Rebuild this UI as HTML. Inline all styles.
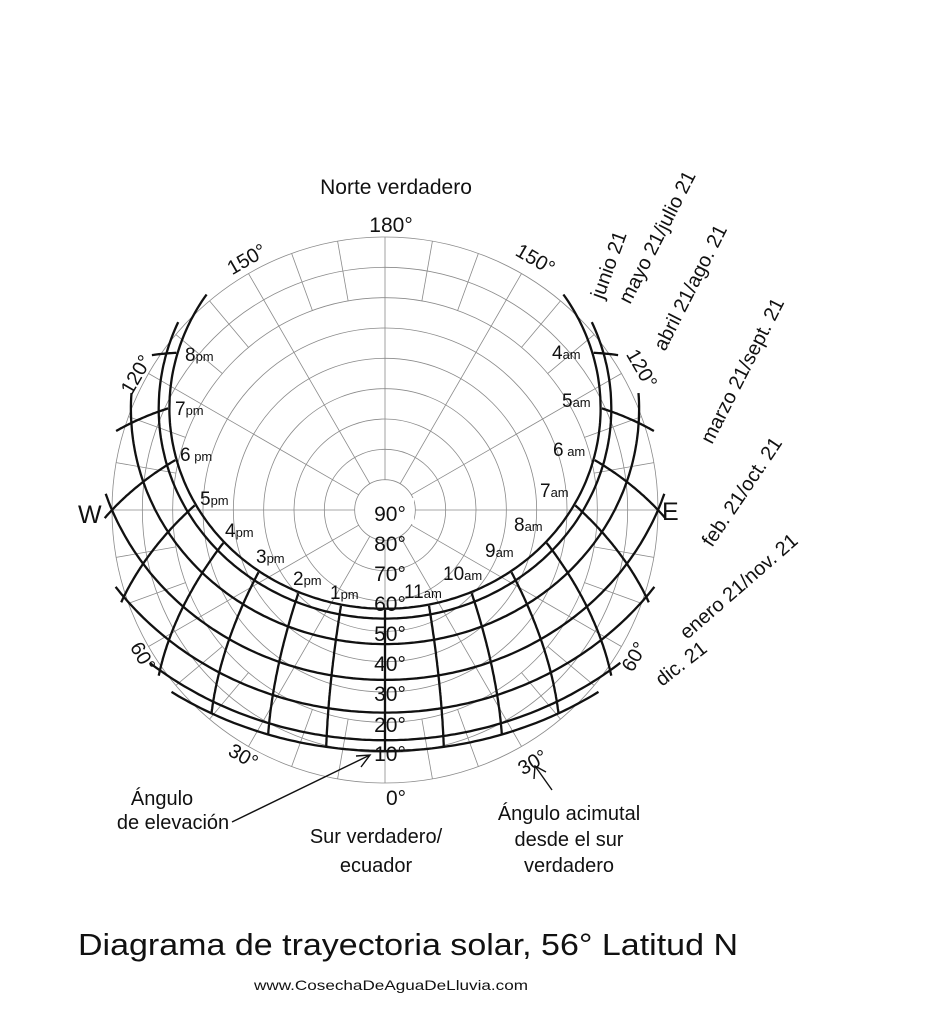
<!DOCTYPE html>
<html><head><meta charset="utf-8"><style>
html,body{margin:0;padding:0;background:#fff;}
svg{display:block;}
text{font-family:"Liberation Sans",sans-serif;fill:#111;}
.s{font-size:13px;}
.h{font-size:19px;}
.e{font-size:21px;}
.r{font-size:20px;}
</style></head><body>
<svg id="sv" width="945" height="1024" viewBox="0 0 945 1024" xmlns="http://www.w3.org/2000/svg">
<g id="grid" stroke="#8a8a8a" stroke-width="0.8" fill="none"></g>
<g id="paths" stroke="#111" stroke-width="2.3" fill="none"></g>
<rect x="366" y="498" width="48" height="26" fill="#fff"/>
<g text-anchor="middle">
<text class="e" x="390" y="521">90°</text>
<text class="e" x="390" y="551">80°</text>
<text class="e" x="390" y="581">70°</text>
<text class="e" x="390" y="611">60°</text>
<text class="e" x="390" y="641">50°</text>
<text class="e" x="390" y="671">40°</text>
<text class="e" x="390" y="701">30°</text>
<text class="e" x="390" y="732">20°</text>
<text class="e" x="390" y="761">10°</text>
<text class="e" x="396" y="805">0°</text>
<text class="e" x="396" y="194" style="font-size:21px">Norte verdadero</text>
<text class="e" x="391" y="232">180°</text>
</g>
<text x="78" y="523" style="font-size:25px">W</text>
<text x="662" y="520" style="font-size:25px">E</text>
<g class="e" style="font-size:20px" text-anchor="middle">
<text transform="translate(250,265) rotate(-30)">150°</text>
<text transform="translate(532,265) rotate(30)">150°</text>
<text transform="translate(142,378) rotate(-60)">120°</text>
<text transform="translate(636,372) rotate(60)">120°</text>
<text transform="translate(137,660) rotate(60)">60°</text>
<text transform="translate(640,660) rotate(-60)">60°</text>
<text transform="translate(240,762) rotate(30)">30°</text>
<text transform="translate(536,768) rotate(-30)">30°</text>
</g>
<g>
<text x="185" y="361"><tspan class="h">8</tspan><tspan class="s">pm</tspan></text>
<text x="175" y="415"><tspan class="h">7</tspan><tspan class="s">pm</tspan></text>
<text x="180" y="461"><tspan class="h">6</tspan><tspan class="s"> pm</tspan></text>
<text x="200" y="505"><tspan class="h">5</tspan><tspan class="s">pm</tspan></text>
<text x="225" y="537"><tspan class="h">4</tspan><tspan class="s">pm</tspan></text>
<text x="256" y="563"><tspan class="h">3</tspan><tspan class="s">pm</tspan></text>
<text x="293" y="585"><tspan class="h">2</tspan><tspan class="s">pm</tspan></text>
<text x="330" y="599"><tspan class="h">1</tspan><tspan class="s">pm</tspan></text>
<text x="404" y="598"><tspan class="h">11</tspan><tspan class="s">am</tspan></text>
<text x="443" y="580"><tspan class="h">10</tspan><tspan class="s">am</tspan></text>
<text x="485" y="557"><tspan class="h">9</tspan><tspan class="s">am</tspan></text>
<text x="514" y="531"><tspan class="h">8</tspan><tspan class="s">am</tspan></text>
<text x="540" y="497"><tspan class="h">7</tspan><tspan class="s">am</tspan></text>
<text x="553" y="456"><tspan class="h">6</tspan><tspan class="s"> am</tspan></text>
<text x="562" y="407"><tspan class="h">5</tspan><tspan class="s">am</tspan></text>
<text x="552" y="359"><tspan class="h">4</tspan><tspan class="s">am</tspan></text>
</g>
<g class="r">
<text transform="translate(603,300) rotate(-70)">junio 21</text>
<text transform="translate(630,305) rotate(-63)">mayo 21/julio 21</text>
<text transform="translate(665,352) rotate(-63)">abril 21/ago. 21</text>
<text transform="translate(712,445) rotate(-63)">marzo 21/sept. 21</text>
<text transform="translate(712,548) rotate(-56)">feb. 21/oct. 21</text>
<text transform="translate(687,640) rotate(-41)">enero 21/nov. 21</text>
<text transform="translate(662,687) rotate(-38)">dic. 21</text>
</g>
<g class="r" text-anchor="middle">
<text x="162" y="805">Ángulo</text>
<text x="173" y="829">de elevación</text>
<text x="376" y="843" style="font-size:20px">Sur verdadero/</text>
<text x="376" y="872" style="font-size:20px">ecuador</text>
<text x="569" y="820">Ángulo acimutal</text>
<text x="569" y="846">desde el sur</text>
<text x="569" y="872">verdadero</text>
</g>
<g stroke="#111" stroke-width="1.4" fill="none">
<line x1="232" y1="822" x2="370" y2="755"/>
<polyline points="356,756 370,755 361,767"/>
<line x1="552" y1="790" x2="535" y2="766"/>
<polyline points="534,779 535,766 546,772"/>
</g>
<text x="78" y="955" textLength="660" lengthAdjust="spacingAndGlyphs" style="font-size:31px">Diagrama de trayectoria solar, 56° Latitud N</text>
<text x="391" y="990" text-anchor="middle" textLength="274" lengthAdjust="spacingAndGlyphs" style="font-size:14px">www.CosechaDeAguaDeLluvia.com</text>
</svg>
<script>
(function(){
var NS="http://www.w3.org/2000/svg",cx=385,cy=510,R=273;
var g=document.getElementById('grid'),p=document.getElementById('paths');
function el(par,t,a){var e=document.createElementNS(NS,t);for(var k in a)e.setAttribute(k,a[k]);par.appendChild(e);return e;}
for(var i=1;i<=9;i++)el(g,'circle',{cx:cx,cy:cy,r:R*i/9});
function pt(r,A){return [cx-r*Math.sin(A),cy+r*Math.cos(A)];}
for(var a=0;a<360;a+=10){var A=a*Math.PI/180,r0=(a%30==0)?R/9:R*7/9;var p0=pt(r0,A),p1=pt(R,A);
el(g,'line',{x1:p0[0],y1:p0[1],x2:p1[0],y2:p1[1]});}
var phi=56*Math.PI/180,D=Math.PI/180;
function sun(dec,H){var d=dec*D,h=H*D;var sa=Math.sin(phi)*Math.sin(d)+Math.cos(phi)*Math.cos(d)*Math.cos(h);
var alt=Math.asin(sa);var sA=Math.cos(d)*Math.sin(h)/Math.cos(alt);var cA=(Math.sin(alt)*Math.sin(phi)-Math.sin(d))/(Math.cos(alt)*Math.cos(phi));
var Az=Math.atan2(sA,cA);var r=(90-alt/D)/90*R;var q=pt(r,Az);return {alt:alt/D,x:q[0],y:q[1]};}
var decs=[23.45,20.2,11.8,0,-10.8,-19.9,-23.45],lim=-2.5;
decs.forEach(function(dc){var s='';for(var H=-180;H<=180;H+=1){var o=sun(dc,H);if(o.alt>=lim){s+=(s?'L':'M')+o.x.toFixed(1)+','+o.y.toFixed(1);}}
el(p,'path',{d:s});});
for(var hr=4;hr<=20;hr++){if(hr==12)continue;var H=(hr-12)*15,s='';
for(var dc=-23.45;dc<=23.46;dc+=0.5){var o=sun(dc,H);if(o.alt>=lim){s+=(s?'L':'M')+o.x.toFixed(1)+','+o.y.toFixed(1);}}
if(s)el(p,'path',{d:s});}
var s2='';for(var dc=-23.45;dc<=23.46;dc+=0.5){var o=sun(dc,0);s2+=(s2?'L':'M')+o.x.toFixed(1)+','+o.y.toFixed(1);}el(p,'path',{d:s2});
})();
</script>
</body></html>
